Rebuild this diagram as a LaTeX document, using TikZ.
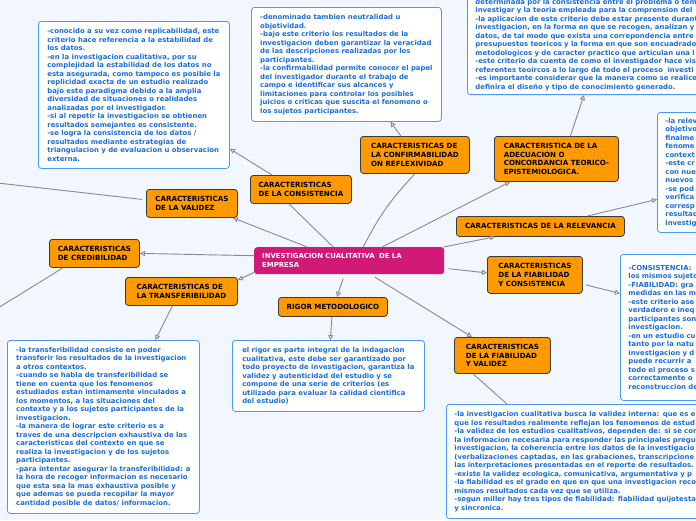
\documentclass[tikz,border=0pt]{standalone}
\usepackage{fontspec}
\setmainfont{DejaVu Sans}
\usetikzlibrary{arrows.meta}

\definecolor{fondo}{HTML}{F2F6FE}
\definecolor{naranja}{HTML}{FF9900}
\definecolor{bordeosc}{HTML}{3A3A3A}
\definecolor{rosa}{HTML}{D11A78}
\definecolor{azultxt}{HTML}{1B6FD6}
\definecolor{azulbrd}{HTML}{4A9BEE}
\definecolor{gris}{HTML}{8A8A8A}

\begin{document}
\begin{tikzpicture}[x=1pt,y=-1pt,line join=round,
    font=\bfseries\fontsize{6.9}{8.5}\selectfont,
    nota/.style={draw=azulbrd,fill=white,text=azultxt,rounded corners=3pt,
      line width=0.8pt,align=left,anchor=north west,inner xsep=8pt,inner ysep=4pt},
    rama/.style={draw=bordeosc,fill=naranja,rounded corners=3pt,line width=0.8pt,
      align=left,anchor=north west,inner xsep=8pt,inner ysep=1pt,
      font=\bfseries\fontsize{7.1}{8.7}\selectfont},
    enlace/.style={draw=gris,line width=0.9pt},
    flecha/.style={enlace,-{Triangle[open,length=5pt,width=5pt]}}]

    \useasboundingbox (0,0) rectangle (696,520);
    \clip (0,0) rectangle (696,520);
    \fill[fondo] (0,0) rectangle (696,520);

    % tema central
    \node[fill=rosa,text=white,rounded corners=3pt,align=left,anchor=north west,
      inner xsep=8pt,minimum width=190pt,minimum height=27pt,text width=174pt]
      (central) at (254,247) {INVESTIGACION CUALITATIVA \ DE LA\\EMPRESA};

    % ramas
    \node[rama,minimum width=91pt,minimum height=28pt] (validez) at (146,189)
      {CARACTERISTICAS\\DE LA VALIDEZ};
    \node[rama,minimum width=101pt,minimum height=28pt] (consist) at (250,175)
      {CARACTERISTICAS\\DE LA CONSISTENCIA};
    \node[rama,minimum width=109pt,minimum height=37pt] (confirm) at (360,136)
      {CARACTERISTICAS DE\\LA CONFIRMABILIDAD\\ON REFLEXIVIDAD};
    \node[rama,minimum width=124pt,minimum height=45pt] (adecua) at (494,136)
      {CARACTERISTICA DE LA\\ADECUACION O\\CONCORDANCIA TEORICO-\\EPISTEMIOLOGICA.};
    \node[rama,minimum width=168pt,minimum height=20pt] (relev) at (456,216)
      {CARACTERISTICAS DE LA RELEVANCIA};
    \node[rama,minimum width=90pt,minimum height=28pt] (credib) at (49,239)
      {CARACTERISTICAS\\DE CREDIBILIDAD};
    \node[rama,minimum width=112pt,minimum height=28pt] (transf) at (125,277)
      {CARACTERISTICAS DE\\LA TRANSFERIBILIDAD};
    \node[rama,minimum width=109pt,minimum height=19pt] (rigor) at (278,297)
      {RIGOR METODOLOGICO};
    \node[rama,minimum width=95pt,minimum height=37pt] (fiabcons) at (487,256)
      {CARACTERISTICAS\\DE LA FIABILIDAD\\Y CONSISTENCIA};
    \node[rama,minimum width=96pt,minimum height=36pt] (fiabval) at (454,337)
      {CARACTERISTICAS\\DE LA FIABILIDAD\\Y VALIDEZ};

    % notas
    \node[nota,minimum width=191pt,minimum height=147pt] (notaA) at (38,21)
      {-conocido a su vez como replicabilidad, este\\
       criterio hace referencia a la estabilidad de\\
       los datos.\\
       -en la investigacion cualitativa, por su\\
       complejidad la estabilidad de los datos no\\
       esta asegurada, como tampoco es posible la\\
       replicidad exacta de un estudio realizado\\
       bajo este paradigma debido a la amplia\\
       diversidad de situaciones o realidades\\
       analizadas por el investigador.\\
       -si al repetir la investigacion se obtienen\\
       resultados semejantes es consistente.\\
       -se logra la consistencia de los datos /\\
       resultados mediante estrategias de\\
       triangulacion y de evaluacion u observacion\\
       externa.};
    \node[nota,minimum width=190pt,minimum height=114pt] (notaB) at (251,7)
      {-denominado tambien neutralidad u\\
       objetividad.\\
       -bajo este criterio los resultados de la\\
       investigacion deben garantizar la veracidad\\
       de las descripciones realizadas por los\\
       participantes.\\
       -la confirmabilidad permite conocer el papel\\
       del investigador durante el trabajo de\\
       campo e identificar sus alcances y\\
       limitaciones para controlar los posibles\\
       juicios o criticas que suscita el fenomeno o\\
       los sujetos participantes.};
    \node[nota,anchor=south west,text width=290pt] (notaC) at (467,95)
      {determinada por la consistencia entre el problema o tema\\
       investigar y la teoria empleada para la comprension del\\
       -la aplicacion de este criterio debe estar presente durante\\
       investigacion, en la forma en que se recogen, analizan y\\
       datos, de tal modo que exista una correpondencia entre\\
       presupuestos teoricos y la forma en que son encuadrados\\
       metodologicos y de caracter practico que articulan una l\\
       -este criterio da cuenta de como el investigador hace vis\\
       referentes teoircos a lo largo de todo el proceso \ investi\\
       -es importante considerar que la manera como se realice\\
       definira el diseño y tipo de conocimiento generado.};
    \node[nota,text width=80pt,minimum height=120pt] (notaD) at (657,112)
      {-la relev\\objetivo\\finalme\\fenome\\context\\-este cr\\con nue\\
       nuevos\\-se pod\\verifica\\corresp\\resultad\\investig};
    \node[nota,text width=90pt,minimum height=146pt] (notaE) at (620,254)
      {-CONSISTENCIA:\\los mismos sujeto\\-FIABILIDAD: gra\\medidas en las m\\
       -este criterio ase\\verdadero e ineq\\participantes son\\investigacion.\\
       -en un estudio cu\\tanto por la natu\\investigacion y d\\puede recurrir a\\
       todo el proceso s\\correctamente o\\reconstruccion de};
    \node[nota,minimum width=192pt,minimum height=173pt] (notaF) at (7,340)
      {-la transferibilidad consiste en poder\\
       transferir los resultados de la investigacion\\
       a otros contextos.\\
       -cuando se habla de transferibilidad se\\
       tiene en cuenta que los fenomenos\\
       estudiados estan intimamente vinculados a\\
       los momentos, a las situaciones del\\
       contexto y a los sujetos participantes de la\\
       investigacion.\\
       -la manera de lograr este criterio es a\\
       traves de una descripcion exhaustiva de las\\
       caracteristicas del contexto en que se\\
       realiza la investigacion y de los sujetos\\
       participantes.\\
       -para intentar asegurar la transferibilidad: a\\
       la hora de recoger informacion es necesario\\
       que esta sea la mas exhaustiva posible y\\
       que ademas se pueda recopilar la mayor\\
       cantidad posible de datos/ informacion.};
    \node[nota,minimum width=192pt,minimum height=71pt] (notaG) at (232,340)
      {el rigor es parte integral de la indagacion\\
       cualitativa, este debe ser garantizado por\\
       todo proyecto de investigacion, garantiza la\\
       validez y autenticidad del estudio y se\\
       compone de una serie de criterios (es\\
       utilizado para evaluar la calidad cientifica\\
       del estudio)};
    \node[nota,text width=290pt,minimum height=114pt] (notaH) at (446,404)
      {-la investigacion cualitativa busca la validez interna: que es e\\
       que los resultados realmente reflejan los fenomenos de estud\\
       -la validez de los estudios cualitativos, dependen de: si se con\\
       la informacion necesaria para responder las principales pregu\\
       investigacion, la coherencia entre los datos de la investigacio\\
       (verbalizaciones captadas, en las grabaciones, transcripcione\\
       las interpretaciones presentadas en el reporte de resultados.\\
       -existe la validez ecologica, comunicativa, argumentativa y p\\
       -la fiabilidad es el grado en que en que una investigacion reco\\
       mismos resultados cada vez que se utiliza.\\
       -segun miller hay tres tipos de fiabilidad: fiabilidad quijotesta\\
       y sincronica.};

    % enlaces que salen del dibujo
    \coordinate (fueraA) at (-20,181);
    \coordinate (fueraB) at (-10,313);

    % enlaces desde el tema central
    \draw[flecha] ([xshift=-42pt]central.north) -- ([xshift=-5pt]validez.south east);
    \draw[enlace] ([xshift=-16pt]central.north) -- ([xshift=-12pt]consist.south);
    \draw[enlace] ([xshift=14pt]central.north) to[bend left=8] (confirm.south);
    \draw[flecha] ([xshift=33pt]central.north) -- ([xshift=16pt]adecua.south west);
    \draw[flecha] ([xshift=-1pt]central.north east) -- ([xshift=39pt]relev.south west);
    \draw[flecha] ([xshift=4pt,yshift=-8pt]central.east) -- ([yshift=2pt]fiabcons.west);
    \draw[flecha] ([xshift=26pt,yshift=-3pt]central.south) -- ([xshift=18pt]fiabval.north west);
    \draw[flecha] ([xshift=-6pt,yshift=-4pt]central.south) -- ([xshift=4pt]rigor.north);
    \draw[flecha] ([yshift=2pt]central.south west) -- ([yshift=-3pt]transf.north east);
    \draw[flecha] ([yshift=5pt]central.west) -- (credib.east);

    % enlaces hacia las notas
    \draw[flecha] ([xshift=-1pt]rigor.south) -- ([xshift=2pt]notaG.north);
    \draw[flecha] ([xshift=-9pt]transf.south) -- ([xshift=52pt]notaF.north);
    \draw[flecha] ([xshift=22pt]consist.north west) -- ([yshift=20pt]notaA.south east);
    \draw[flecha] ([xshift=-14pt]confirm.north) -- ([xshift=44pt]notaB.south);
    \draw[flecha] ([xshift=14pt]adecua.north) -- ([xshift=117pt]notaC.south west);
    \draw[flecha] ([xshift=47pt]relev.north) -- ([yshift=-27pt]notaD.west);
    \draw[flecha] ([xshift=3pt,yshift=-10pt]fiabcons.east) -- ([yshift=34pt]notaE.west);
    \draw[enlace] ([xshift=19pt]fiabval.south west) -- ([xshift=61pt]notaH.north west);
    \draw[enlace] ([xshift=-4pt,yshift=4pt]validez.west) -- (fueraA);
    \draw[enlace] ([xshift=14pt]credib.south west) -- (fueraB);
\end{tikzpicture}
\end{document}
